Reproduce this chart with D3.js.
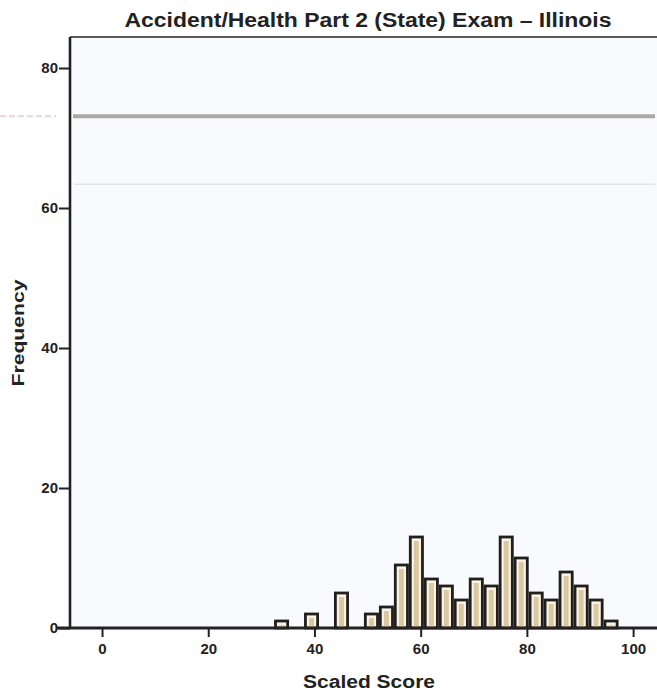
<!DOCTYPE html>
<html>
<head>
<meta charset="utf-8">
<script src="https://cdn.jsdelivr.net/npm/d3@7"></script>
<style>
  body { margin: 0; background: #ffffff; }
  svg { display: block; }
</style>
</head>
<body>
<div id="chart"></div>
<script>
// histogram bins (lower edge of each bin, in score units)
var binStart = [32.40, 35.22, 38.04, 40.86, 43.68, 46.50, 49.32, 52.14, 54.96, 57.78,
                60.60, 63.42, 66.24, 69.06, 71.88, 74.70, 77.52, 80.34, 83.16, 85.98,
                88.80, 91.62, 94.44];
var binWidth = 2.82;
var counts = [1, 0, 2, 0, 5, 0, 2, 3, 9, 13, 7, 6, 4, 7, 6, 13, 10, 5, 4, 8, 6, 4, 1];

var xTicks = [0, 20, 40, 60, 80, 100];
var yTicks = [0, 20, 40, 60, 80];

var title = "Accident/Health Part 2 (State) Exam \u2013 Illinois";
var xLabel = "Scaled Score";
var yLabel = "Frequency";

var width = 657, height = 694;
var margin = { top: 37, right: 0, bottom: 66, left: 70 };

var svg = d3.select("#chart")
    .append("svg")
    .attr("width", width)
    .attr("height", height)
    .style("font-family", "'Liberation Sans', Arial, sans-serif");

var x = d3.scaleLinear()
    .domain([-6.03, 104.5])
    .range([margin.left, width - margin.right]);

var y = d3.scaleLinear()
    .domain([0, 84.43])
    .range([height - margin.bottom, margin.top]);

// plot background
svg.append("rect")
    .attr("x", margin.left)
    .attr("y", margin.top)
    .attr("width", width - margin.left - margin.right)
    .attr("height", height - margin.top - margin.bottom)
    .attr("fill", "#f9fafd");

// scanner streaks in the original
svg.append("line")
    .attr("x1", 0).attr("x2", margin.left - 14)
    .attr("y1", y(73.1)).attr("y2", y(73.1))
    .attr("stroke", "#e6d6dc")
    .attr("stroke-width", 2)
    .attr("stroke-dasharray", "6,3");
svg.append("line")
    .attr("x1", margin.left + 3).attr("x2", width - 2)
    .attr("y1", y(73.1)).attr("y2", y(73.1))
    .attr("stroke", "#aba7a9")
    .attr("stroke-width", 4);
svg.append("line")
    .attr("x1", margin.left + 4).attr("x2", width - 2)
    .attr("y1", y(63.4)).attr("y2", y(63.4))
    .attr("stroke", "#e2e4e8")
    .attr("stroke-width", 1.5);

// bars
var bins = svg.append("g")
    .selectAll("g")
    .data(counts.map(function (c, i) { return { x0: binStart[i], n: c }; }))
    .enter()
    .filter(function (d) { return d.n > 0; })
    .append("g");

bins.append("rect")
    .attr("x", function (d) { return x(d.x0) + 1.4; })
    .attr("y", function (d) { return y(d.n); })
    .attr("width", function (d) { return x(d.x0 + binWidth) - x(d.x0) - 2.8; })
    .attr("height", function (d) { return y(0) - y(d.n); })
    .attr("fill", "#f7f3e8")
    .attr("stroke", "#221e1b")
    .attr("stroke-width", 2.8);

bins.append("rect")
    .attr("x", function (d) { return x(d.x0) + 5; })
    .attr("y", function (d) { return Math.min(y(d.n) + 4, y(0) - 1); })
    .attr("width", function (d) { return x(d.x0 + binWidth) - x(d.x0) - 10; })
    .attr("height", function (d) { return Math.max(y(0) - y(d.n) - 4, 1); })
    .attr("fill", "#dac8a0");

// top border
svg.append("line")
    .attr("x1", margin.left).attr("x2", width)
    .attr("y1", margin.top).attr("y2", margin.top)
    .attr("stroke", "#222")
    .attr("stroke-width", 1.5);

// axes
var xAxis = svg.append("g")
    .attr("transform", "translate(0," + y(0) + ")")
    .call(d3.axisBottom(x).tickValues(xTicks).tickSize(9).tickPadding(6).tickFormat(d3.format("d")));
xAxis.select(".domain").remove();
xAxis.append("line")
    .attr("x1", margin.left - 14).attr("x2", width)
    .attr("stroke", "#222").attr("stroke-width", 2.8);

var yAxis = svg.append("g")
    .attr("transform", "translate(" + margin.left + ",0)")
    .call(d3.axisLeft(y).tickValues(yTicks).tickSize(11).tickPadding(1).tickFormat(d3.format("d")));
yAxis.select(".domain").remove();
yAxis.append("line")
    .attr("y1", margin.top).attr("y2", y(0))
    .attr("stroke", "#222").attr("stroke-width", 2.6);

svg.selectAll(".tick line").attr("stroke", "#222").attr("stroke-width", 2);
svg.selectAll(".tick text")
    .attr("fill", "#222")
    .style("font-size", "15px")
    .style("font-weight", "bold")
    .style("font-family", "'Liberation Sans', Arial, sans-serif");

// title and labels
svg.append("text")
    .attr("x", 368)
    .attr("y", 27)
    .attr("text-anchor", "middle")
    .attr("textLength", 487)
    .attr("lengthAdjust", "spacingAndGlyphs")
    .style("font-size", "20px")
    .style("font-weight", "bold")
    .attr("fill", "#222")
    .text(title);

svg.append("text")
    .attr("x", 369)
    .attr("y", 688)
    .attr("text-anchor", "middle")
    .attr("textLength", 132)
    .attr("lengthAdjust", "spacingAndGlyphs")
    .style("font-size", "18px")
    .style("font-weight", "bold")
    .attr("fill", "#222")
    .text(xLabel);

svg.append("text")
    .attr("transform", "translate(24," + 333 + ") rotate(-90)")
    .attr("text-anchor", "middle")
    .attr("textLength", 107)
    .attr("lengthAdjust", "spacingAndGlyphs")
    .style("font-size", "17px")
    .style("font-weight", "bold")
    .attr("fill", "#222")
    .text(yLabel);
</script>
</body>
</html>
